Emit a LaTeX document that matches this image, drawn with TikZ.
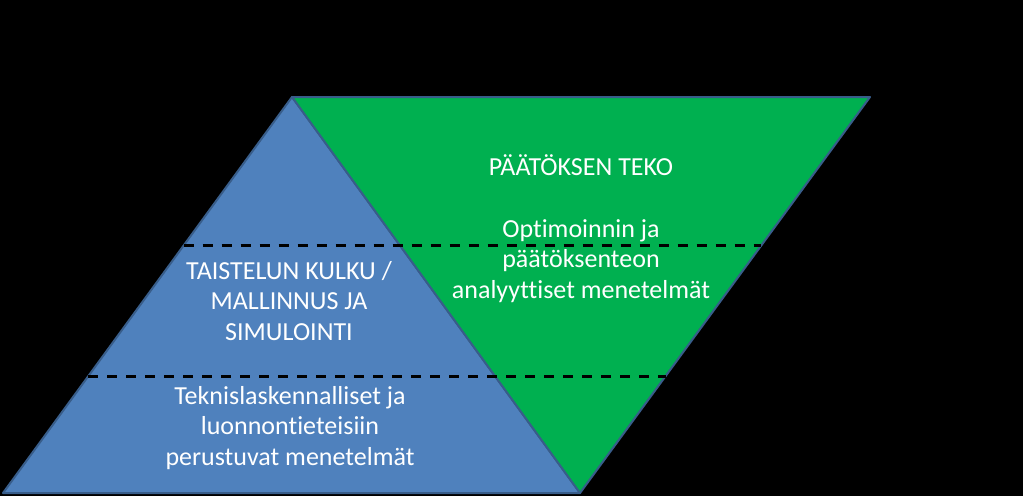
\documentclass[tikz,border=0pt]{standalone}
\usepackage{fontspec}
\setmainfont{Carlito}[Ligatures=NoCommon]
\usetikzlibrary{calc}
\definecolor{pblue}{HTML}{4F81BD}
\definecolor{pgreen}{HTML}{00B050}
\definecolor{pedge}{HTML}{385D8A}
\tikzstyle{tri}=[draw=pedge,line width=2pt,line join=round]
\tikzstyle{lbl}=[text=white,align=center,font=\fontsize{26}{30.5}\selectfont]
\tikzstyle{sep}=[black,line width=2.8pt,dash pattern=on 10pt off 9pt]

\begin{document}
\begin{tikzpicture}[x=1pt,y=-1pt]
    \fill[black] (0,0) rectangle (1023,496);
    \useasboundingbox (0,0) rectangle (1023,496);
    \coordinate (bl) at (3,493);
    \coordinate (top) at (292,97);
    \coordinate (br) at (580,493);
    \coordinate (tr) at (870,97);
    \draw[tri,fill=pblue] (bl) -- (top) -- (br) -- cycle;
    \draw[tri,fill=pgreen] (top) -- (tr) -- (br) -- cycle;
    \foreach \t/\n in {0.625/up, 0.295/low} {
        \coordinate (\n l) at ($(bl)!\t!(top)$);
        \coordinate (\n r) at ($(br)!\t!(tr)$);
        \draw[sep] (\n l) -- (\n r);}
    \node[lbl] (teko) at (581,165) {PÄÄTÖKSEN TEKO};
    \node[lbl] (optim) at (581,261) {Optimoinnin ja\\päätöksenteon\\analyyttiset menetelmät};
    \node[lbl] (kulku) at (289,301) {TAISTELUN KULKU /\\MALLINNUS JA\\SIMULOINTI};
    \node[lbl] (tekn) at (290,428) {Teknislaskennalliset ja\\luonnontieteisiin\\perustuvat menetelmät};
\end{tikzpicture}
\end{document}
